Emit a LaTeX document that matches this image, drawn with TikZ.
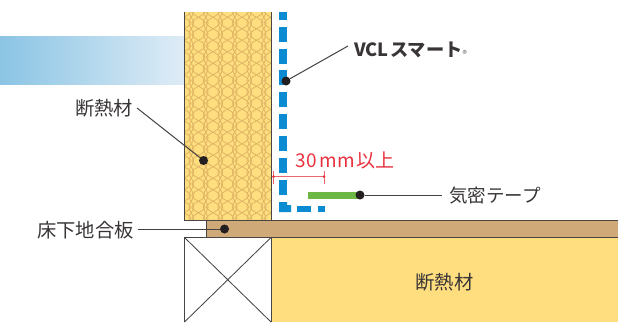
\documentclass[tikz,border=0pt]{standalone}
\usepackage{fontspec}
\setmainfont{Noto Sans CJK JP}
\usetikzlibrary{shadings}
\definecolor{insul}{HTML}{FFDE7F}
\definecolor{weave}{HTML}{DFB565}
\definecolor{board}{HTML}{CFA977}
\definecolor{edge}{HTML}{4A4545}
\definecolor{vclblue}{HTML}{0A8BD2}
\definecolor{tape}{HTML}{6DB845}
\definecolor{dimred}{HTML}{E8323E}
\definecolor{ink}{HTML}{231F20}
\tikzset{
  x=1pt,y=-1pt,
  outline/.style={draw=edge,line width=.85pt},
  leader/.style={draw=ink!85!white,line width=1pt},
  dotmark/.style={circle,fill=ink,inner sep=0pt,minimum size=9pt},
  label/.style={font=\fontsize{19.3}{21}\selectfont,text=ink!90!white,inner sep=0pt},
  vcldash/.style={draw=vclblue,line width=8pt},
  redline/.style={draw=dimred!75!white,line width=.9pt},
  weaveline/.style={draw=weave,line width=.8pt,domain=0:220,samples=110,smooth},
}
\begin{document}
\begin{tikzpicture}
\useasboundingbox (0,0) rectangle (636,322);
% indoor air gradient
\shade[left color={rgb,255:red,139;green,196;blue,228},right color={rgb,255:red,222;green,236;blue,246}] (0,36) rectangle (184,84);
% wall insulation
\fill[insul] (184,12) rectangle (271,220);
\begin{scope}
\clip (184,12) rectangle (271,220);
\foreach \c in {0,...,6}{
  \pgfmathsetmacro{\cx}{184+\c*14.5}
  \draw[weaveline] plot ({\cx+6.6*cos(\x/23*360)},\x);
  \draw[weaveline] plot ({\cx-6.6*cos(\x/23*360)},\x);
  \draw[weaveline] plot ({\cx+7.25+2.2*cos(\x/23*360)},\x);
  \draw[weaveline] plot ({\cx+7.25-2.2*cos(\x/23*360)},\x);
}
\end{scope}
\draw[outline] (184.5,12) -- (184.5,220) -- (271,220) -- (271,12);
% floor board
\fill[board] (206,220) rectangle (618,237.5);
\draw[outline] (206,220.5) -- (618,220.5) (206,220.5) -- (206,237.5) -- (618,237.5);
% floor insulation
\fill[insul] (271,238) rectangle (618,322);
% timber
\draw[outline] (184.5,322) -- (184.5,237.5) -- (271,237.5) -- (271,322);
\begin{scope}
\clip (184,237.5) rectangle (271,322);
\draw[edge,line width=.85pt] (184.5,237.5) -- (271,322) (271,237.5) -- (184.5,322);
\end{scope}
% VCL sheet
\draw[vcldash] (283,12) -- (283,20);
\foreach \y in {27,48.7,70.4,92.1,113.8,135.5,158,180}{
  \draw[vcldash] (283,\y) -- (283,\y+15);
}
\fill[vclblue] (279,202) -- (287,202) -- (287,205) -- (291,205) -- (291,212) -- (279,212) -- cycle;
\fill[vclblue] (297,205.5) rectangle (311,212);
\fill[vclblue] (318,205.5) rectangle (325,212);
% tape
\fill[tape] (308,192) rectangle (360,199);
% dimension
\coordinate (dimA) at (273.5,176.5);
\coordinate (dimB) at (324,176.5);
\draw[redline] (dimA) -- (dimB);
\draw[redline] ([yshift=5.5pt]dimA) -- ([yshift=-7.5pt]dimA);
\draw[redline] ([yshift=5.5pt]dimB) -- ([yshift=-7.5pt]dimB);
\fill[dimred] (dimA) circle (1.5);
\fill[dimred] (dimB) circle (1.5);
% labels
\node[label,anchor=west,font=\bfseries\fontsize{18.2}{20}\selectfont] (vcl) at (354,50) {VCL\kern1.5ptスマート};
\node[anchor=west,inner sep=0pt,font=\fontsize{9}{10}\selectfont,text=ink!70!white] (reg) at (462.5,54) {®};
\node[label,anchor=west] (ins1) at (75,108.5) {断熱材};
\node[label,anchor=west] (floor) at (37,230) {床下地合板};
\node[label,anchor=west,font=\fontsize{18.5}{21}\selectfont] (air) at (449,195.5) {気密テープ};
\node[label] (ins2) at (444.5,282.5) {断熱材};
\node[anchor=west,inner sep=0pt,text=dimred,font=\fontsize{19}{21}\selectfont] (dimtxt) at (295,160) {3\kern.8pt0\kern2.5ptmm\kern1.5pt以上};
% dots
\node[dotmark] (d1) at (286,81) {};
\node[dotmark] (d2) at (203.5,160.5) {};
\node[dotmark] (d3) at (360,195) {};
\node[dotmark] (d4) at (224.5,229) {};
\coordinate (l1) at (348,46);
\coordinate (l2) at (137,108);
\coordinate (l3) at (442,195);
\coordinate (l4) at (138,229);
\draw[leader] (l1) -- (d1);
\draw[leader] (l2) -- (d2);
\draw[leader] (d3) -- (l3);
\draw[leader] (l4) -- (d4);
\end{tikzpicture}
\end{document}
